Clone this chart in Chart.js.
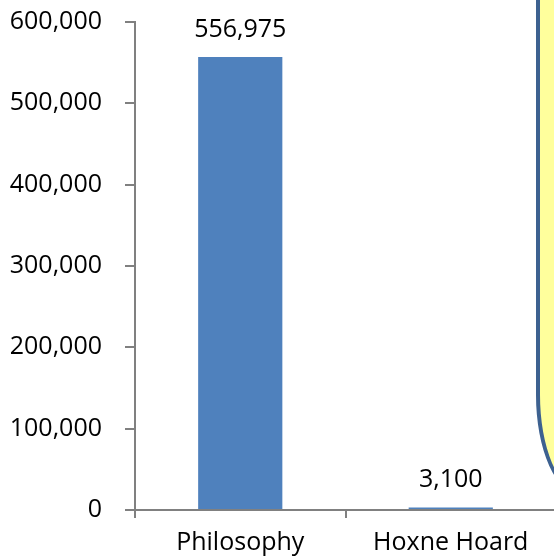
<!DOCTYPE html>
<html lang="en">
<head>
    <meta charset="UTF-8">
    <title>Philosophy vs Hoxne Hoard</title>
    <script src="https://cdn.jsdelivr.net/npm/chart.js"></script>
    <style>
        body { margin: 0; overflow: hidden; background: #fff; }
        #wrap { position: absolute; left: 0; top: 0; }
        /* yellow callout box cut off at the right edge */
        .callout {
            position: absolute;
            left: 536px;
            top: -10px;
            width: 200px;
            height: 505px;
            box-sizing: border-box;
            background: #ffff9c;
            border: 4px solid #3d6190;
            border-bottom-left-radius: 45px 100px;
        }
    </style>
</head>
<body>

<div id="wrap">
    <canvas id="barChart" width="600" height="560"></canvas>
</div>
<div class="callout"></div>

<script>
    // Chart data
    let categories = ["Philosophy", "Hoxne Hoard"];
    let values = [556975, 3100];
    let yMin = 0;
    let yMax = 600000;
    let yStep = 100000;

    let fontFamily = "'Open Sans', 'Liberation Sans', sans-serif";
    let fontSize = 25;
    let axisColor = "#808080";

    // Draw the value above each bar
    const valueLabels = {
        id: "valueLabels",
        afterDatasetsDraw(chart) {
            let ctx = chart.ctx;
            let meta = chart.getDatasetMeta(0);
            ctx.save();
            ctx.font = fontSize + "px " + fontFamily;
            ctx.fillStyle = "#000";
            ctx.textAlign = "center";
            ctx.textBaseline = "alphabetic";
            meta.data.forEach((bar, i) => {
                ctx.fillText(values[i].toLocaleString("en-US"), bar.x, bar.y - 20);
            });
            ctx.restore();
        }
    };

    let ctx = document.getElementById("barChart").getContext("2d");
    new Chart(ctx, {
        type: "bar",
        data: {
            labels: categories,
            datasets: [{
                data: values,
                backgroundColor: "#4f81bd",
                barPercentage: 0.4,
                categoryPercentage: 1
            }]
        },
        options: {
            responsive: false,
            animation: false,
            layout: { padding: { top: 22, right: 44, left: 0, bottom: 0 } },
            plugins: {
                legend: { display: false },
                tooltip: { enabled: false }
            },
            scales: {
                x: {
                    afterFit: (scale) => { scale.height = 50; },
                    grid: {
                        offset: true,
                        drawOnChartArea: false,
                        drawTicks: true,
                        tickLength: 8,
                        color: axisColor,
                        lineWidth: 2
                    },
                    border: { display: true, color: axisColor, width: 2 },
                    ticks: {
                        color: "#000",
                        padding: 10,
                        font: { family: fontFamily, size: fontSize }
                    }
                },
                y: {
                    min: yMin,
                    max: yMax,
                    afterFit: (scale) => {
                        scale.width = 135;
                        // don't let the label padding push the plot down
                        scale.paddingTop = 14;
                        scale.paddingBottom = 14;
                    },
                    grid: {
                        drawOnChartArea: false,
                        drawTicks: true,
                        tickLength: 10,
                        color: axisColor,
                        lineWidth: 2
                    },
                    border: { display: true, color: axisColor, width: 2 },
                    ticks: {
                        stepSize: yStep,
                        color: "#000",
                        padding: 23,
                        font: { family: fontFamily, size: fontSize },
                        callback: (v) => v.toLocaleString("en-US")
                    }
                }
            }
        },
        plugins: [valueLabels]
    });
</script>

</body>
</html>
